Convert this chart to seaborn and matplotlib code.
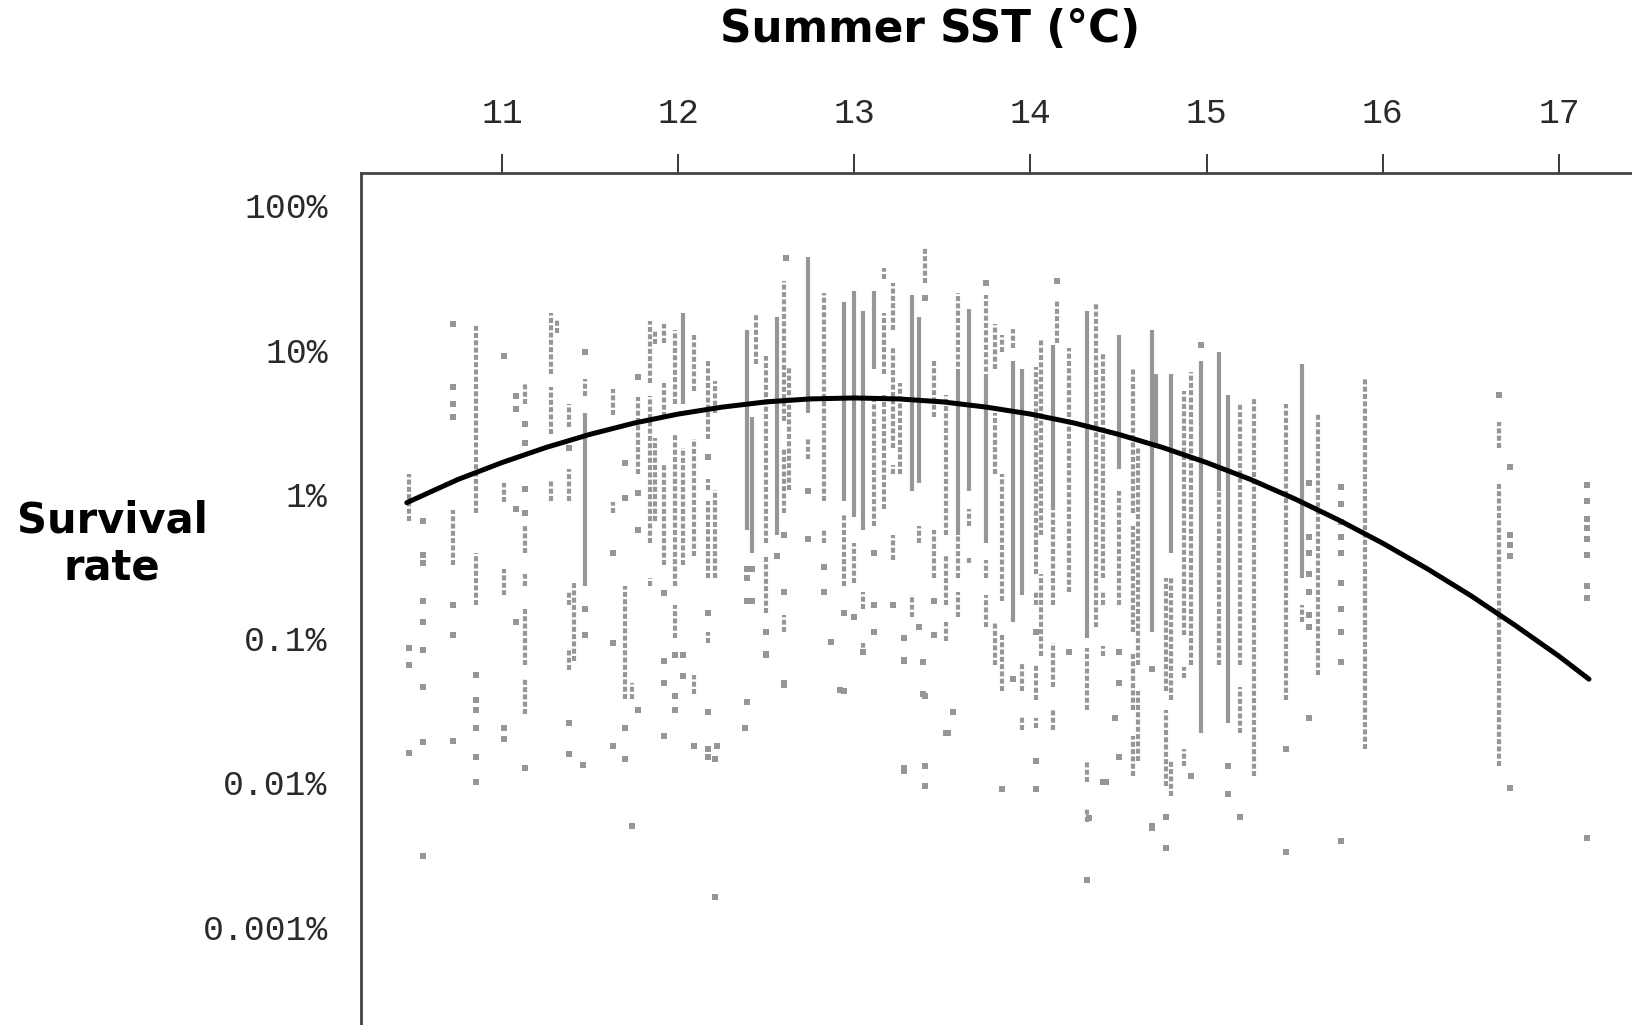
import matplotlib
matplotlib.use("Agg")
import matplotlib.pyplot as plt
from matplotlib.ticker import NullLocator
import seaborn as sns

# fitted curve (survival in %)
curve_sst = [10.46, 10.75, 11.0, 11.25, 11.5, 11.75, 12.0, 12.25, 12.5, 12.75, 13.0,
             13.25, 13.5, 13.75, 14.0, 14.25, 14.5, 14.75, 15.0, 15.25, 15.5, 15.75,
             16.0, 16.25, 16.5, 16.75, 17.0, 17.17]
curve_val = [0.87, 1.26, 1.65, 2.1, 2.59, 3.1, 3.58, 4.0, 4.35, 4.56, 4.63,
             4.56, 4.35, 4.0, 3.58, 3.1, 2.59, 2.1, 1.65, 1.26, 0.925, 0.659,
             0.455, 0.304, 0.197, 0.123, 0.075, 0.052]

# dense runs of observations (drawn as solid columns)
solid_sst = [11.47, 12.03, 12.39, 12.42, 12.56, 12.74, 12.94, 13.00, 13.05, 13.11,
             13.33, 13.37, 13.59, 13.65, 13.75, 13.90, 13.95, 14.13, 14.32, 14.50,
             14.69, 14.71, 14.80, 14.97, 15.07, 15.12, 15.54]
solid_hi = [3.66, 18, 13.6, 3.4, 16.9, 44, 21.3, 25.6, 18.7, 25.6,
            24, 16.9, 6.8, 19.3, 6.3, 8.4, 7.4, 10.8, 18.7, 12.7,
            13.6, 6.8, 6.8, 8.4, 9.6, 4.85, 7.9]
solid_lo = [0.23, 4.2, 0.56, 0.39, 0.52, 3.66, 0.9, 0.69, 0.56, 7.4,
            1.05, 1.2, 0.52, 1.05, 0.46, 0.13, 0.2, 0.79, 0.1, 1.49,
            0.11, 2.08, 0.39, 0.022, 1.05, 0.026, 0.26]

# looser runs of observations (drawn as dotted columns)
band_sst = [10.47, 10.72, 10.85, 10.85, 11.01, 11.01, 11.13, 11.13, 11.13, 11.13,
            11.13, 11.28, 11.28, 11.28, 11.31, 11.38, 11.38, 11.38, 11.38, 11.41,
            11.47, 11.63, 11.63, 11.70, 11.74, 11.77, 11.84, 11.84, 11.84, 11.87,
            11.87, 11.92, 11.92, 11.92, 11.98, 11.98, 11.98, 12.03, 12.09, 12.09,
            12.09, 12.17, 12.17, 12.17, 12.17, 12.21, 12.21, 12.44, 12.50, 12.50,
            12.60, 12.60, 12.60, 12.63, 12.74, 12.83, 12.83, 12.83, 12.94, 13.00,
            13.05, 13.05, 13.11, 13.17, 13.17, 13.17, 13.22, 13.22, 13.22, 13.22,
            13.26, 13.33, 13.37, 13.40, 13.45, 13.45, 13.52, 13.52, 13.52, 13.59,
            13.59, 13.59, 13.65, 13.65, 13.75, 13.75, 13.75, 13.80, 13.80, 13.80,
            13.84, 13.84, 13.84, 13.90, 13.95, 13.95, 14.03, 14.03, 14.03, 14.03,
            14.06, 14.06, 14.13, 14.13, 14.13, 14.15, 14.22, 14.32, 14.32, 14.32,
            14.37, 14.37, 14.41, 14.41, 14.41, 14.50, 14.58, 14.58, 14.58, 14.58,
            14.61, 14.61, 14.77, 14.77, 14.80, 14.80, 14.87, 14.87, 14.87, 14.91,
            15.07, 15.19, 15.19, 15.27, 15.45, 15.54, 15.63, 15.90, 16.66, 16.66]
band_hi = [1.37, 0.77, 14.6, 0.39, 1.2, 0.30, 5.9, 0.60, 0.28, 0.16,
           0.052, 18, 5.5, 1.24, 16, 4.2, 1.5, 0.21, 0.085, 0.24,
           6.3, 5.35, 0.88, 0.23, 0.049, 4.7, 15.8, 4.8, 0.26, 13.4,
           2.45, 15, 5.9, 1.6, 13.6, 2.6, 0.17, 2.08, 12.7, 2.4,
           0.056, 8.4, 1.26, 0.9, 0.11, 6.1, 1.07, 17.5, 9, 0.37,
           30, 2.08, 0.145, 7.5, 2.45, 24.6, 8.4, 0.56, 0.74, 0.46,
           0.21, 0.093, 4.85, 37, 18, 4.85, 29, 10.2, 1.6, 0.52,
           5.9, 0.2, 0.6, 50.8, 8.4, 0.56, 4.85, 0.37, 0.13, 24.6,
           0.52, 0.21, 0.79, 0.37, 24, 0.35, 0.2, 15, 3.66, 0.13,
           12.7, 1.37, 0.105, 14, 0.068, 0.029, 7.6, 0.21, 0.065, 0.028,
           11.9, 0.28, 0.79, 0.093, 0.032, 22, 10.2, 0.085, 0.014, 0.0066,
           21.3, 2.95, 9.6, 0.21, 0.088, 1.05, 7.4, 0.6, 0.08, 0.021,
           2.08, 0.043, 0.26, 0.032, 0.26, 0.014, 5.2, 0.063, 0.017, 7,
           1.05, 4.2, 0.046, 4.7, 4.2, 0.17, 3.66, 6.3, 3.15, 1.2]
band_lo = [0.65, 0.32, 0.74, 0.17, 0.88, 0.20, 4.2, 0.39, 0.23, 0.065,
           0.030, 6.8, 2.6, 0.9, 13, 2.9, 0.9, 0.17, 0.06, 0.07,
           4.8, 3.55, 0.74, 0.038, 0.038, 1.37, 5.9, 0.46, 0.23, 11,
           0.65, 11.2, 3.4, 0.32, 4.2, 0.23, 0.10, 0.32, 5.2, 0.37,
           0.041, 2.4, 1.07, 0.26, 0.093, 3.66, 0.26, 7.9, 0.46, 0.15,
           3.2, 0.74, 0.11, 1.07, 1.76, 8.4, 0.9, 0.46, 0.23, 0.24,
           0.16, 0.077, 0.6, 31, 6.8, 0.79, 13.6, 2.08, 1.37, 0.35,
           1.37, 0.14, 0.46, 29, 3.4, 0.26, 0.52, 0.17, 0.096, 6.8,
           0.26, 0.14, 0.6, 0.33, 6.3, 0.26, 0.12, 7.4, 1.37, 0.065,
           9.6, 0.18, 0.043, 10.2, 0.043, 0.023, 0.28, 0.17, 0.037, 0.024,
           0.52, 0.075, 0.17, 0.046, 0.023, 11.2, 0.21, 0.032, 0.010, 0.0053,
           2.95, 0.12, 0.26, 0.17, 0.075, 0.17, 0.74, 0.11, 0.032, 0.011,
           0.065, 0.014, 0.043, 0.0094, 0.037, 0.008, 0.105, 0.053, 0.013, 0.065,
           0.065, 0.065, 0.022, 0.011, 0.037, 0.13, 0.056, 0.017, 2.08, 0.013]

# single observations
pt_sst = [10.47, 10.47, 10.47,
          10.55, 10.55, 10.55, 10.55, 10.55, 10.55, 10.55, 10.55, 10.55,
          10.72, 10.72, 10.72, 10.72, 10.72, 10.72, 10.72,
          10.85, 10.85, 10.85, 10.85, 10.85, 10.85,
          11.01, 11.01, 11.01,
          11.08, 11.08, 11.08, 11.08,
          11.13, 11.13, 11.13, 11.13, 11.13,
          11.38, 11.38, 11.38, 11.46,
          11.47, 11.47, 11.47,
          11.63, 11.63, 11.63,
          11.70, 11.70, 11.70, 11.70, 11.74,
          11.77, 11.77, 11.77, 11.77,
          11.92, 11.92, 11.92, 11.92,
          11.98, 11.98, 11.98, 12.03, 12.03, 12.09,
          12.17, 12.17, 12.17, 12.17, 12.17,
          12.21, 12.21, 12.22, 12.38,
          12.39, 12.39, 12.39, 12.39, 12.42, 12.42,
          12.50, 12.50, 12.50, 12.56,
          12.60, 12.60, 12.60, 12.60, 12.61,
          12.74, 12.74, 12.83, 12.83, 12.87, 12.92, 12.94, 12.94,
          13.00, 13.05, 13.11, 13.11, 13.11, 13.22,
          13.28, 13.28, 13.28, 13.28, 13.28,
          13.37, 13.39, 13.39, 13.40, 13.40, 13.40, 13.40,
          13.45, 13.45, 13.52, 13.53, 13.56, 13.75, 13.84, 13.90,
          14.03, 14.03, 14.03, 14.15, 14.22, 14.32, 14.33, 14.41, 14.43, 14.48,
          14.50, 14.50, 14.50, 14.69, 14.69, 14.69, 14.77, 14.77, 14.91, 14.97,
          15.12, 15.12, 15.19, 15.45, 15.45,
          15.58, 15.58, 15.58, 15.58, 15.58, 15.58, 15.58, 15.58,
          15.76, 15.76, 15.76, 15.76, 15.76, 15.76, 15.76, 15.76, 15.76, 15.76,
          16.66, 16.72, 16.72, 16.72, 16.72, 16.72,
          17.16, 17.16, 17.16, 17.16, 17.16, 17.16, 17.16, 17.16, 17.16]
pt_val = [0.085, 0.065, 0.016,
          0.65, 0.38, 0.33, 0.18, 0.13, 0.083, 0.046, 0.019, 0.0031,
          15, 5.5, 4.2, 3.4, 0.17, 0.106, 0.0195,
          0.056, 0.037, 0.032, 0.024, 0.015, 0.010,
          9.0, 0.024, 0.020,
          4.8, 3.9, 0.79, 0.13,
          3.05, 2.26, 1.09, 0.74, 0.0125,
          2.08, 0.026, 0.0157, 0.0133,
          9.6, 0.16, 0.106,
          0.39, 0.093, 0.018,
          1.65, 0.94, 0.024, 0.0145, 0.005,
          6.5, 1.02, 0.56, 0.032,
          0.205, 0.07, 0.049, 0.021,
          0.077, 0.04, 0.032, 0.077, 0.055, 0.018,
          1.8, 0.15, 0.031, 0.017, 0.015,
          0.0146, 0.0016, 0.018, 0.024,
          0.3, 0.26, 0.18, 0.036, 0.30, 0.18,
          0.11, 0.077, 0.078, 0.37,
          0.52, 0.21, 0.049, 0.047, 43,
          1.05, 0.49, 0.31, 0.21, 0.094, 0.044, 0.15, 0.043,
          0.14, 0.08, 0.39, 0.17, 0.11, 0.17,
          0.1, 0.071, 0.07, 0.0126, 0.012,
          0.12, 0.068, 0.041, 23, 0.04, 0.013, 0.0094,
          0.18, 0.105, 0.022, 0.022, 0.031, 29, 0.009, 0.052,
          0.11, 0.014, 0.009, 30, 0.08, 0.0021, 0.0057, 0.01, 0.01, 0.028,
          0.08, 0.049, 0.015, 0.061, 0.0048, 0.005, 0.0035, 0.0058, 0.011, 10.8,
          0.013, 0.0083, 0.0058, 0.017, 0.0033,
          1.2, 0.5, 0.39, 0.28, 0.21, 0.145, 0.12, 0.028,
          1.12, 0.85, 0.64, 0.5, 0.39, 0.24, 0.16, 0.11, 0.068, 0.0039,
          4.85, 1.54, 0.52, 0.44, 0.37, 0.0092,
          1.16, 0.9, 0.67, 0.58, 0.49, 0.38, 0.23, 0.19, 0.0041]

x_ticks = [11, 12, 13, 14, 15, 16, 17]
y_ticks = [100, 10, 1, 0.1, 0.01, 0.001]
y_labels = ['100%', '10%', '1%', '0.1%', '0.01%', '0.001%']

sns.set_style("white")
plt.rcParams['font.family'] = ['DejaVu Sans']

fig = plt.figure(figsize=(16.33, 10.25), dpi=100)
ax = fig.add_axes([361 / 1633, 0, 1 - 361 / 1633, 1 - 173 / 1025])
ax.set_yscale('log')

gray = '#969696'
ax.vlines(solid_sst, solid_lo, solid_hi, colors=gray, linewidth=3.0)
ax.vlines(band_sst, band_lo, band_hi, colors=gray, linewidth=3.0,
          linestyles=[(0, (1.2, 0.55))])
sns.scatterplot(x=pt_sst, y=pt_val, marker='s', s=13, color=gray,
                linewidth=0, ax=ax)
sns.lineplot(x=curve_sst, y=curve_val, color='black', linewidth=3.6, ax=ax)

ax.set_xlim(10.2, 17.42)
ax.set_ylim(2.08e-4, 168)
ax.set_xlabel('')
ax.set_ylabel('')

# axis at the top, only left/top frame
ax.xaxis.tick_top()
ax.set_xticks(x_ticks)
ax.set_xticklabels([str(t) for t in x_ticks])
ax.set_yticks(y_ticks)
ax.set_yticklabels(y_labels)
ax.yaxis.set_minor_locator(NullLocator())
ax.tick_params(axis='x', direction='out', length=14, width=1.3, pad=17,
               labelsize=25, colors='#2a2a2a')
ax.tick_params(axis='y', direction='out', length=12, width=1.3, pad=12,
               labelsize=25, colors='#2a2a2a')
for lbl in ax.get_xticklabels() + ax.get_yticklabels():
    lbl.set_fontfamily('Liberation Mono')

for side in ['right', 'bottom']:
    ax.spines[side].set_visible(False)
for side in ['left', 'top']:
    ax.spines[side].set_linewidth(2)
    ax.spines[side].set_color('#444444')

fig.text(930 / 1633, 1 - 29 / 1025, 'Summer SST (°C)', ha='center', va='center',
         fontsize=31.5, fontweight='bold', color='black')
fig.text(112 / 1633, 1 - 544 / 1025, 'Survival\nrate', ha='center', va='center',
         fontsize=30, fontweight='bold', color='black', linespacing=1.15)

fig.savefig('out.png', dpi=100)
